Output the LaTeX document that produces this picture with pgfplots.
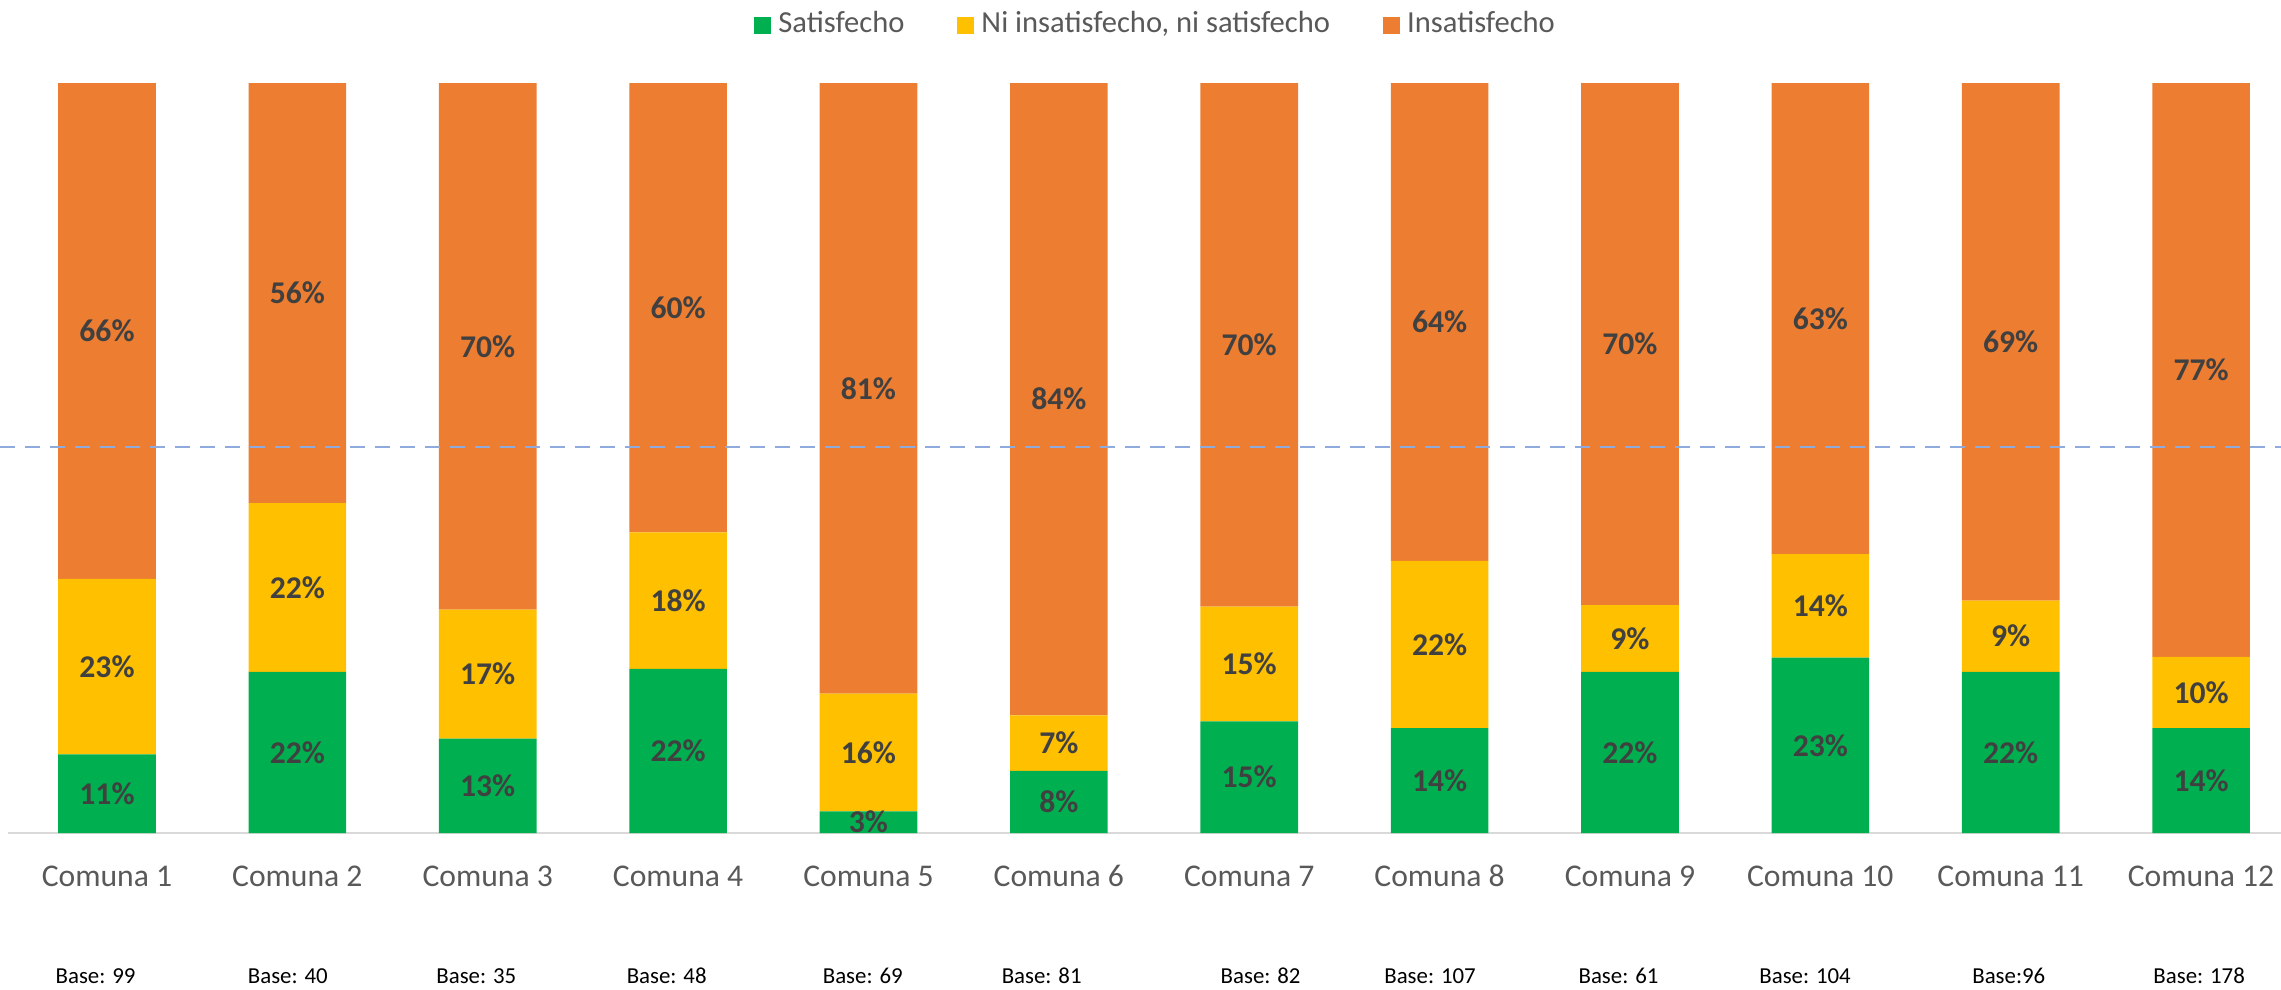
\documentclass[border=0pt]{standalone}
\usepackage{fontspec}
\setmainfont{Carlito}
\usepackage{pgfplots}
\usepackage{pgfplotstable}
\pgfplotsset{compat=1.18}
\definecolor{cgreen}{HTML}{00B050}
\definecolor{cyellow}{HTML}{FFC000}
\definecolor{corange}{HTML}{ED7D31}
\definecolor{ctext}{HTML}{595959}
\definecolor{clabel}{HTML}{404040}
\definecolor{cdash}{HTML}{8FAADC}
\definecolor{caxis}{HTML}{D9D9D9}
\pgfplotstableread{
x s n i ls ln li
0 10.5 23.4 66.1 11 23 66
1 21.5 22.5 56.0 22 22 56
2 12.6 17.2 70.2 13 17 70
3 21.9 18.2 59.9 22 18 60
4 2.9 15.7 81.4 3 16 81
5 8.3 7.4 84.3 8 7 84
6 14.9 15.3 69.8 15 15 70
7 14.0 22.3 63.7 14 22 64
8 21.5 8.9 69.6 22 9 70
9 23.4 13.8 62.8 23 14 63
10 21.5 9.5 69.0 22 9 69
11 14.0 9.5 76.5 14 10 77
}\data
\tikzset{baselab/.style={font=\fontsize{6.5}{8}\selectfont, text=black, anchor=center, yshift=-14.3mm}}
\begin{document}
\begin{tikzpicture}
\useasboundingbox (0,0) rectangle (228.1mm,98.9mm);
\begin{axis}[
  at={(0.8mm,15.6mm)}, anchor=south west,
  scale only axis, width=227.3mm, height=75mm,
  ybar stacked, bar width=9.76mm,
  xmin=-0.52, xmax=11.42, ymin=0, ymax=100,
  enlargelimits=false, clip=false,
  axis y line=none, axis x line*=bottom,
  x axis line style={-, draw=caxis, line width=0.2mm},
  xtick=data, major tick length=0pt,
  xticklabels={Comuna 1,Comuna 2,Comuna 3,Comuna 4,Comuna 5,Comuna 6,Comuna 7,Comuna 8,Comuna 9,Comuna 10,Comuna 11,Comuna 12},
  xticklabel style={anchor=center, yshift=-4.3mm, font=\fontsize{9}{11}\selectfont, text=ctext},
  point meta=explicit symbolic,
  nodes near coords={\pgfplotspointmeta\%},
  every node near coord/.append style={anchor=center, font=\bfseries\fontsize{9}{11}\selectfont, text=clabel},
  legend columns=3,
  legend style={draw=none, at={(0.506,1)}, anchor=center, yshift=5.8mm, font=\fontsize{8.7}{10}\selectfont, text=ctext,
    /tikz/every even column/.append style={column sep=4.6mm}},
  legend image code/.code={\fill[#1] (0mm,-0.85mm) rectangle (1.7mm,0.85mm);},
]
\draw[cdash, line width=0.65pt, dash pattern=on 1.5mm off 1mm] (axis cs:-0.56,51.5) -- (axis cs:11.5,51.5);
\addplot[fill=cgreen, draw=none] table[x=x, y=s, meta=ls] {\data};
\addplot[fill=cyellow, draw=none] table[x=x, y=n, meta=ln] {\data};
\addplot[fill=corange, draw=none] table[x=x, y=i, meta=li] {\data};
\legend{Satisfecho, {Ni insatisfecho, ni satisfecho}, Insatisfecho}
\node[baselab] at (axis cs:-0.06,0) {Base: 99};
\node[baselab] at (axis cs:0.95,0) {Base: 40};
\node[baselab] at (axis cs:1.94,0) {Base: 35};
\node[baselab] at (axis cs:2.94,0) {Base: 48};
\node[baselab] at (axis cs:3.97,0) {Base: 69};
\node[baselab] at (axis cs:4.91,0) {Base: 81};
\node[baselab] at (axis cs:6.06,0) {Base: 82};
\node[baselab] at (axis cs:6.95,0) {Base: 107};
\node[baselab] at (axis cs:7.94,0) {Base: 61};
\node[baselab] at (axis cs:8.92,0) {Base: 104};
\node[baselab] at (axis cs:9.99,0) {Base:96};
\node[baselab] at (axis cs:10.99,0) {Base: 178};
\end{axis}
\end{tikzpicture}
\end{document}
